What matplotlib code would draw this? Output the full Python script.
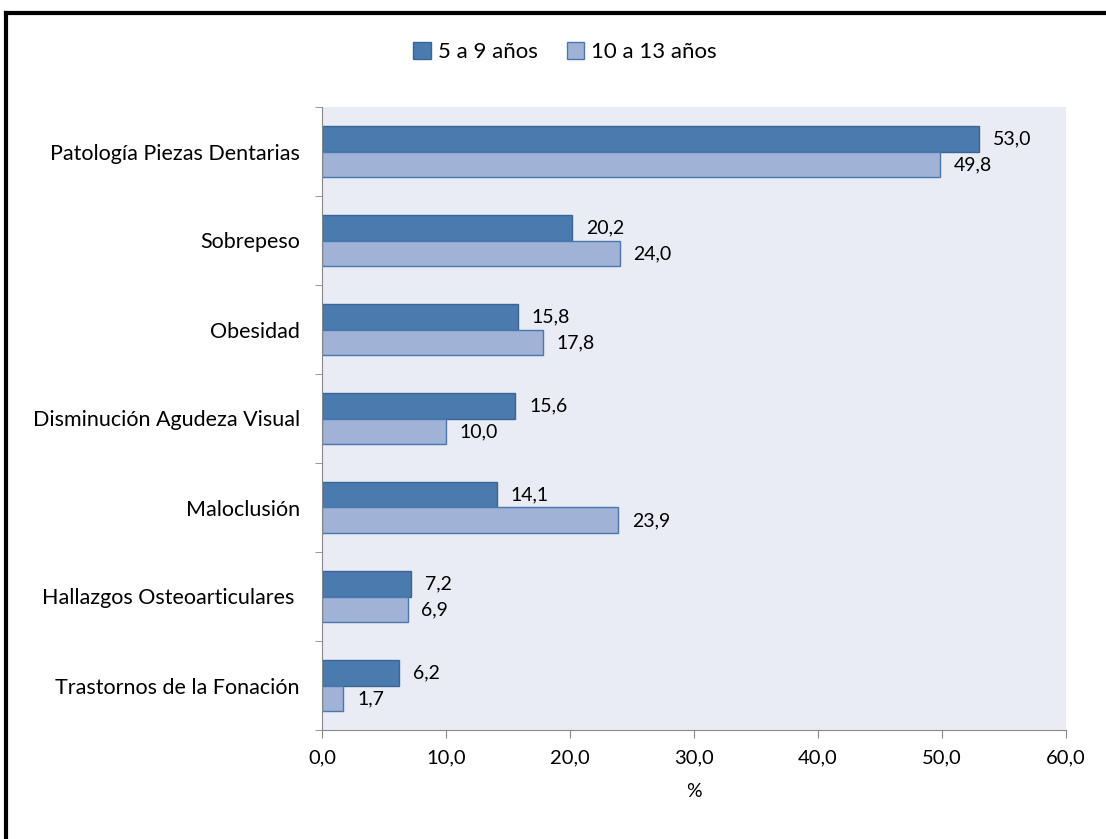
import matplotlib
matplotlib.use('Agg')
import matplotlib.pyplot as plt
import numpy as np

categories = ['Patología Piezas Dentarias', 'Sobrepeso', 'Obesidad',
              'Disminución Agudeza Visual', 'Maloclusión',
              'Hallazgos Osteoarticulares ', 'Trastornos de la Fonación']
series_names = ['5 a 9 años', '10 a 13 años']
vals_5_9 = [53.0, 20.2, 15.8, 15.6, 14.1, 7.2, 6.2]
vals_10_13 = [49.8, 24.0, 17.8, 10.0, 23.9, 6.9, 1.7]
xticks = [0, 10, 20, 30, 40, 50, 60]

plt.rcParams['font.family'] = ['Lato', 'DejaVu Sans']

fig = plt.figure(figsize=(11.06, 8.39), dpi=100)
ax = fig.add_axes([322/1106, 1 - 730/839, (1066 - 322)/1106, (730 - 107)/839])
ax.set_facecolor('#E9ECF4')

n = len(categories)
y = np.arange(n)
h = 0.29
dark, dark_edge = '#4A7AAE', '#3A6596'
light, light_edge = '#A0B3D6', '#4A78AE'

b1 = ax.barh(y - h/2, vals_5_9, height=h, color=dark, edgecolor=dark_edge,
             linewidth=1, label=series_names[0])
b2 = ax.barh(y + h/2, vals_10_13, height=h, color=light, edgecolor=light_edge,
             linewidth=1, label=series_names[1])

for bars, vals in ((b1, vals_5_9), (b2, vals_10_13)):
    for rect, v in zip(bars, vals):
        ax.annotate(('%.1f' % v).replace('.', ','),
                    (rect.get_width(), rect.get_y() + rect.get_height()/2),
                    xytext=(10, 0), textcoords='offset points',
                    va='center', ha='left', fontsize=14, color='black')

ax.set_ylim(n - 0.5, -0.5)
ax.set_xlim(0, 60)
ax.set_yticks(y)
ax.set_yticklabels(categories, fontsize=15.5)
ax.set_yticks(np.arange(-0.5, n, 1), minor=True)
ax.tick_params(axis='y', which='major', length=0, pad=16)
ax.tick_params(axis='y', which='minor', length=5, color='#888888')
ax.set_xticks(xticks)
ax.set_xticklabels([('%.1f' % t).replace('.', ',') for t in xticks], fontsize=14.5)
ax.tick_params(axis='x', length=6, color='#888888', pad=8)
ax.set_xlabel('%', fontsize=14, labelpad=12)

for s in ('top', 'right'):
    ax.spines[s].set_visible(False)
for s in ('left', 'bottom'):
    ax.spines[s].set_color('#888888')

fig.legend(handles=[b1, b2], loc='center', bbox_to_anchor=(565/1106, 1 - 52/839),
           ncol=2, frameon=False, fontsize=16, handlelength=0.8,
           handleheight=0.8, columnspacing=1.3, handletextpad=0.3)

# outer frame
fig.add_artist(plt.Line2D([6/1106, 6/1106], [0, 1 - 13/839], transform=fig.transFigure,
                          color='black', linewidth=3))
fig.add_artist(plt.Line2D([6/1106, 1], [1 - 13/839, 1 - 13/839], transform=fig.transFigure,
                          color='black', linewidth=3))

fig.savefig('out.png', dpi=100)
